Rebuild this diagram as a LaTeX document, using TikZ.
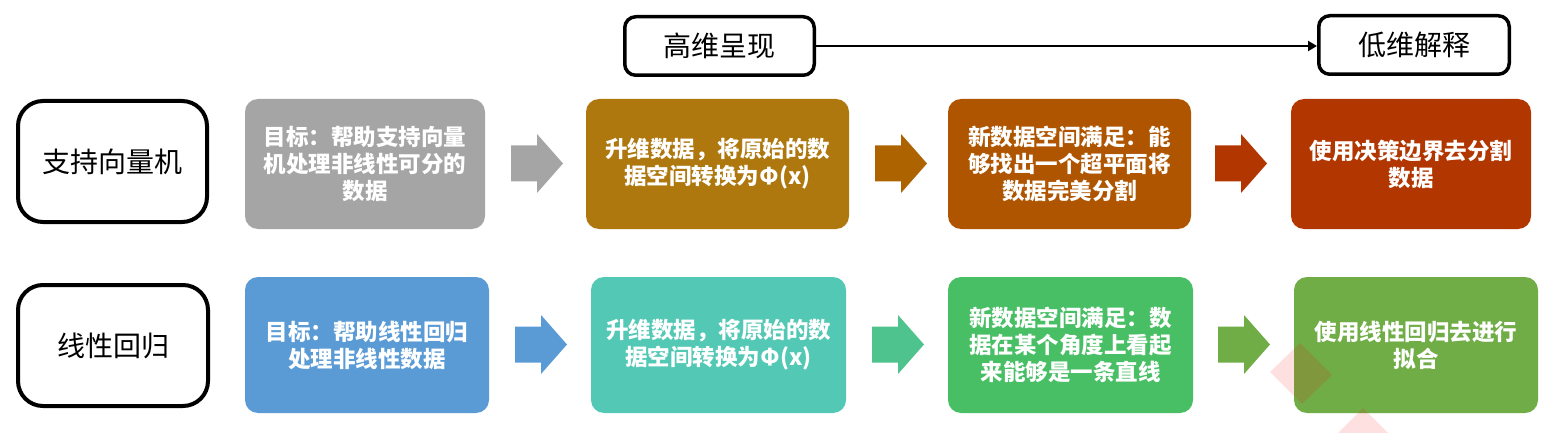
\documentclass[tikz,border=0pt]{standalone}
\usepackage{fontspec}
\newfontfamily\cjk{Noto Sans CJK SC}
\usetikzlibrary{arrows.meta}
\definecolor{cgray}{HTML}{A5A5A5}
\definecolor{cgold}{HTML}{AE780E}
\definecolor{corarr}{HTML}{AD6400}
\definecolor{corange}{HTML}{AF5500}
\definecolor{cred}{HTML}{B23600}
\definecolor{cblue}{HTML}{5B9BD5}
\definecolor{cteal}{HTML}{53C9B5}
\definecolor{cgrarr}{HTML}{4EC38E}
\definecolor{cgreen}{HTML}{48BF65}
\definecolor{colive}{HTML}{70AD47}
\newcommand\blockarr[3]{\fill[#3] (#1,#2-18) -- ++(26,0) -- ++(0,-11.5) -- ++(26,29.5) -- ++(-26,29.5) -- ++(0,-11.5) -- ++(-26,0) -- cycle;}
\tikzset{
  lab/.style={draw=black, line width=4pt, rounded corners=25pt, inner sep=0pt,
    font=\cjk\fontsize{28}{32}\selectfont},
  tag/.style={draw=black, line width=3.5pt, rounded corners=11pt, inner sep=0pt,
    font=\cjk\fontsize{28}{32}\selectfont},
  cbox/.style={rounded corners=13pt, inner sep=0pt, text=white, align=center,
    font=\cjk\bfseries\fontsize{22.5}{27}\selectfont},
  conn/.style={line width=2pt, -{Triangle[length=9pt,width=10pt]}},
}
\begin{document}
\begin{tikzpicture}[x=1pt,y=-1pt]
\useasboundingbox (0,0) rectangle (1551,433);
\fill[white] (0,0) rectangle (1551,433);
% header tags
\node[tag, minimum width=189.5pt, minimum height=58.5pt] (hi) at (719.5,46) {高维呈现};
\node[tag, minimum width=190.5pt, minimum height=58.5pt] (lo) at (1414,45) {低维解释};
\draw[conn] (hi.east) -- (hi.east -| lo.west);
% row labels
\node[lab, minimum width=189pt, minimum height=121pt] (svm) at (112.5,161.5) {支持向量机};
\node[lab, minimum width=190pt, minimum height=121pt] (lr) at (113,345.5) {线性回归};
% row 1
\node[cbox, fill=cgray, minimum width=240pt, minimum height=130pt] (a1) at (365,164)
  {目标：帮助支持向量\\机处理非线性可分的\\数据};
\node[cbox, fill=cgold, minimum width=263pt, minimum height=130pt] (a2) at (717.5,164)
  {升维数据，将原始的数\\据空间转换为Φ(x)};
\node[cbox, fill=corange, minimum width=243pt, minimum height=130pt] (a3) at (1069.5,164)
  {新数据空间满足：能\\够找出一个超平面将\\数据完美分割};
\node[cbox, fill=cred, minimum width=240pt, minimum height=130pt] (a4) at (1411,164)
  {使用决策边界去分割\\数据};
\blockarr{511}{163.5}{cgray}
\blockarr{875}{163.5}{corarr}
\blockarr{1215}{163.5}{cred}
% row 2
\node[cbox, fill=cblue, minimum width=244pt, minimum height=136pt] (b1) at (367,345)
  {目标：帮助线性回归\\处理非线性数据};
\node[cbox, fill=cteal, minimum width=255pt, minimum height=136pt] (b2) at (718.5,345)
  {升维数据，将原始的数\\据空间转换为Φ(x)};
\node[cbox, fill=cgreen, minimum width=245pt, minimum height=136pt] (b3) at (1070.5,345)
  {新数据空间满足：数\\据在某个角度上看起\\来能够是一条直线};
\node[cbox, fill=colive, minimum width=244pt, minimum height=136pt] (b4) at (1416,345)
  {使用线性回归去进行\\拟合};
\blockarr{515}{344.5}{cblue}
\blockarr{872}{344.5}{cgrarr}
\blockarr{1218}{344.5}{colive}
% faint watermark
\begin{scope}
\clip (0,0) rectangle (1551,433);
\fill[red, opacity=0.12] (1270,372) -- (1300,343) -- (1332,375) -- (1302,404) -- cycle;
\fill[red, opacity=0.12] (1363,408) -- (1394,439) -- (1363,470) -- (1332,439) -- cycle;
\end{scope}
\end{tikzpicture}
\end{document}
